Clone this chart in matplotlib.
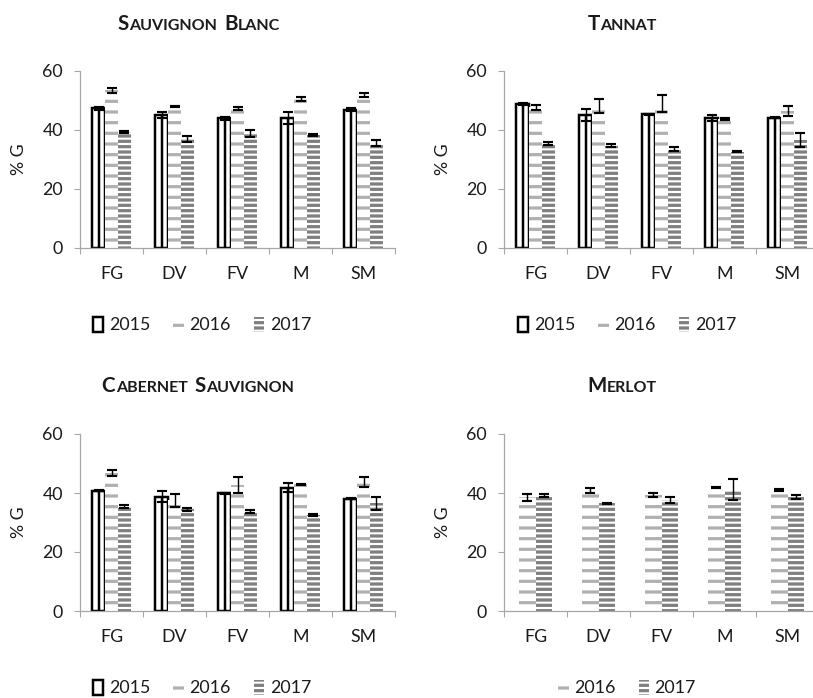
import numpy as np
import matplotlib as mpl
mpl.use('Agg')
import matplotlib.pyplot as plt
from matplotlib.patches import Patch
from matplotlib.offsetbox import TextArea, HPacker, AnnotationBbox

# 64 dpi so the hatch spacing (6 lines per inch) matches the reference dashes
DPI = 64
mpl.rcParams['font.family'] = ['Lato', 'DejaVu Sans']
mpl.rcParams['hatch.linewidth'] = 3.6

categories = ['FG', 'DV', 'FV', 'M', 'SM']

# Sauvignon Blanc
sb_2015 = [47.3, 45.1, 43.9, 44.0, 46.8]
sb_2015_err = [0.5, 0.9, 0.6, 2.0, 0.5]
sb_2016 = [53.4, 47.9, 47.3, 50.5, 52.0]
sb_2016_err = [0.7, 0.2, 0.5, 0.6, 0.7]
sb_2017 = [39.4, 37.1, 38.9, 38.3, 35.7]
sb_2017_err = [0.4, 1.0, 1.2, 0.2, 1.0]

# Tannat
ta_2015 = [48.8, 45.0, 45.3, 44.2, 44.2]
ta_2015_err = [0.2, 2.0, 0.2, 1.0, 0.2]
ta_2016 = [47.7, 48.0, 49.0, 43.7, 46.4]
ta_2016_err = [0.9, 2.4, 2.8, 0.3, 1.7]
ta_2017 = [35.4, 34.7, 33.7, 32.7, 36.6]
ta_2017_err = [0.4, 0.6, 0.7, 0.3, 2.3]

# Cabernet Sauvignon
cs_2015 = [40.8, 38.8, 39.9, 41.8, 38.0]
cs_2015_err = [0.2, 2.0, 0.2, 1.5, 0.2]
cs_2016 = [46.7, 37.6, 42.7, 42.9, 43.8]
cs_2016_err = [1.0, 2.2, 2.8, 0.3, 1.7]
cs_2017 = [35.3, 34.5, 33.7, 32.5, 36.5]
cs_2017_err = [0.5, 0.5, 0.6, 0.3, 2.2]

# Merlot (no 2015)
me_2016 = [38.6, 40.8, 39.3, 41.8, 41.0]
me_2016_err = [1.2, 0.8, 0.8, 0.1, 0.2]
me_2017 = [39.0, 36.5, 37.7, 41.1, 38.6]
me_2017_err = [0.5, 0.1, 1.0, 3.5, 0.7]

GRAY_AXIS = '#a6a6a6'
TXT = '#1a1a1a'
styles = {
    '2015': dict(facecolor='white', edgecolor='black', linewidth=2.8),
    '2016': dict(facecolor='white', edgecolor='#b0b0b0', linewidth=0, hatch='-'),
    '2017': dict(facecolor='white', edgecolor='#7f7f7f', linewidth=0, hatch='--'),
}

panels = [
    ('Sauvignon Blanc', [('2015', sb_2015, sb_2015_err), ('2016', sb_2016, sb_2016_err), ('2017', sb_2017, sb_2017_err)]),
    ('Tannat', [('2015', ta_2015, ta_2015_err), ('2016', ta_2016, ta_2016_err), ('2017', ta_2017, ta_2017_err)]),
    ('Cabernet Sauvignon', [('2015', cs_2015, cs_2015_err), ('2016', cs_2016, cs_2016_err), ('2017', cs_2017, cs_2017_err)]),
    ('Merlot', [('2016', me_2016, me_2016_err), ('2017', me_2017, me_2017_err)]),
]

# axes rects in figure fraction, title centres and legend centres
W, H = 813, 698
rects = [
    [80 / W, 1 - 248 / H, 315 / W, 177 / H],
    [504 / W, 1 - 248 / H, 315 / W, 177 / H],
    [80 / W, 1 - 611 / H, 315 / W, 177 / H],
    [504 / W, 1 - 611 / H, 315 / W, 177 / H],
]
title_pos = [(199 / W, 1 - 24 / H), (622 / W, 1 - 24 / H), (198 / W, 1 - 386 / H), (622 / W, 1 - 386 / H)]
legend_pos = [(202 / W, 1 - 325 / H), (627 / W, 1 - 325 / H), (202 / W, 1 - 688 / H), (627 / W, 1 - 688 / H)]


def small_caps_title(ax, title, xy):
    words = []
    for word in title.split():
        parts = [TextArea(word[0].upper(), textprops=dict(fontsize=23, fontweight='bold', color=TXT)),
                 TextArea(word[1:].upper(), textprops=dict(fontsize=18, fontweight='bold', color=TXT))]
        words.append(HPacker(children=parts, align='baseline', pad=0, sep=0.5))
    box = HPacker(children=words, align='baseline', pad=0, sep=8)
    ab = AnnotationBbox(box, xy, xycoords='figure fraction', frameon=False,
                        box_alignment=(0.5, 0.5), annotation_clip=False)
    ax.add_artist(ab)


fig = plt.figure(figsize=(W / DPI, H / DPI), dpi=DPI)
x = np.arange(len(categories))

for i, (title, series) in enumerate(panels):
    ax = fig.add_axes(rects[i])
    n = len(series)
    w = 1.0 / (n + 1.85)
    handles = []
    for j, (year, vals, err) in enumerate(series):
        pos = x + (j - (n - 1) / 2) * w
        ax.bar(pos, vals, width=w, zorder=2, **styles[year])
        if year == '2015':
            ax.vlines(pos, 0, vals, colors='black', lw=2.8, zorder=3)
        ax.errorbar(pos, vals, yerr=err, fmt='none', ecolor='black',
                    elinewidth=1.6, capsize=6, capthick=2.4, zorder=4)
        handles.append(Patch(label=year, **styles[year]))

    ax.set_xlim(-0.5, 4.5)
    ax.set_ylim(0, 60)
    ax.set_yticks([0, 20, 40, 60])
    ax.set_xticks(x)
    ax.set_xticklabels(categories)
    ax.set_xticks(np.arange(-0.5, 5, 1), minor=True)
    ax.tick_params(axis='x', which='major', length=0, pad=20, labelsize=20, labelcolor=TXT)
    ax.tick_params(axis='x', which='minor', length=7, width=1.2, color=GRAY_AXIS)
    ax.tick_params(axis='y', length=7, width=1.2, color=GRAY_AXIS, pad=12, labelsize=20, labelcolor=TXT)
    for side in ['top', 'right']:
        ax.spines[side].set_visible(False)
    for side in ['left', 'bottom']:
        ax.spines[side].set_color(GRAY_AXIS)
        ax.spines[side].set_linewidth(1.4)
    ax.text(-0.195, 0.5, '% G', transform=ax.transAxes, rotation=90,
            ha='center', va='center', fontsize=20, color=TXT)

    small_caps_title(ax, title, title_pos[i])
    fig.legend(handles=handles, loc='center', bbox_to_anchor=legend_pos[i],
               ncol=n, frameon=False, fontsize=20, handlelength=0.6,
               handleheight=0.9, handletextpad=0.3, columnspacing=1.3,
               labelcolor=TXT)

fig.savefig('out.png', dpi=DPI)
